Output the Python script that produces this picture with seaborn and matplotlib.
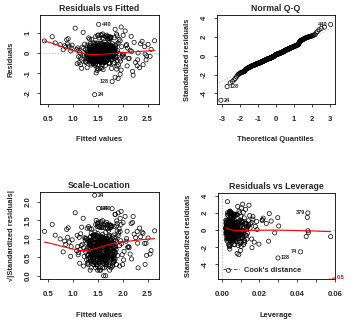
import numpy as np
import matplotlib
matplotlib.use("Agg")
import matplotlib.pyplot as plt
from matplotlib.lines import Line2D
import seaborn as sns
from statistics import NormalDist

# ---- fitted model quantities (one entry per observation, obs 1..450) ----
fitted = [
    1.62, 1.48, 1.75, 1.33, 2.08, 1.57, 1.69, 1.41, 1.84, 1.15,
    1.53, 1.78, 0.88, 1.46, 1.66, 1.92, 1.37, 1.59, 2.31, 1.72,
    1.44, 1.81, 1.27, 1.44, 1.63, 1.55, 1.98, 1.36, 1.71, 1.50,
    1.67, 1.39, 2.12, 1.58, 1.09, 1.76, 1.49, 1.85, 1.31, 1.61,
    1.74, 1.43, 0.65, 1.56, 1.89, 1.35, 1.64, 2.44, 1.52, 1.79,
    1.22, 1.68, 1.47, 1.83, 1.58, 2.02, 1.40, 1.70, 1.34, 1.60,
    1.51, 1.87, 1.29, 1.65, 1.42, 1.77, 2.26, 1.54, 1.19, 1.63,
    1.45, 1.73, 1.38, 2.21, 1.57, 1.82, 1.49, 0.91, 1.67, 1.32,
    1.95, 1.50, 1.61, 1.36, 1.75, 1.46, 1.12, 1.70, 1.55, 2.05,
    1.41, 1.66, 1.80, 1.33, 1.59, 2.36, 1.48, 1.72, 1.25, 1.62,
    1.54, 1.86, 1.43, 1.69, 1.37, 1.99, 1.52, 0.75, 1.64, 1.78,
    1.46, 1.58, 1.30, 1.74, 1.51, 2.15, 1.40, 1.68, 1.17, 1.56,
    1.81, 1.44, 1.63, 1.35, 1.91, 1.53, 1.71, 1.79, 1.48, 2.29,
    1.60, 1.38, 1.76, 1.50, 1.05, 1.66, 1.42, 1.84, 1.57, 1.28,
    1.73, 1.47, 1.94, 1.61, 1.34, 1.69, 1.52, 2.51, 1.45, 1.78,
    1.39, 1.63, 1.21, 1.55, 1.82, 1.49, 1.67, 2.03, 1.36, 1.58,
    1.74, 1.43, 1.65, 1.26, 1.88, 1.51, 1.70, 0.84, 1.59, 1.41,
    1.77, 1.54, 1.35, 1.97, 1.62, 1.46, 1.83, 1.13, 1.68, 1.52,
    1.60, 1.37, 1.75, 2.41, 1.48, 1.64, 1.32, 1.80, 1.56, 1.44,
    1.71, 1.50, 1.93, 1.40, 1.62, 1.23, 1.77, 1.53, 1.66, 2.10,
    1.45, 1.58, 1.86, 1.33, 1.69, 0.59, 1.55, 1.74, 1.42, 1.61,
    1.38, 1.80, 1.49, 1.64, 2.00, 1.47, 1.10, 1.72, 1.57, 1.36,
    1.84, 1.52, 1.67, 1.41, 2.55, 1.60, 1.29, 1.76, 1.48, 1.65,
    1.54, 1.70, 1.39, 1.89, 1.58, 1.44, 1.22, 1.78, 1.51, 1.63,
    1.35, 1.91, 1.68, 1.46, 1.59, 2.18, 1.42, 1.73, 1.56, 1.30,
    1.82, 1.49, 1.64, 1.16, 1.71, 1.53, 1.39, 2.07, 1.61, 1.47,
    1.85, 1.57, 1.34, 1.69, 0.81, 1.52, 1.76, 1.43, 1.96, 1.62,
    1.50, 1.27, 1.66, 1.81, 1.45, 2.34, 1.58, 1.72, 1.37, 1.55,
    1.79, 1.41, 1.63, 1.11, 1.50, 1.88, 1.47, 1.67, 1.31, 1.59,
    1.74, 2.23, 1.44, 1.60, 1.38, 1.83, 1.53, 1.70, 0.96, 1.48,
    1.65, 1.42, 1.95, 1.56, 1.77, 1.33, 1.62, 2.47, 1.49, 1.71,
    1.24, 1.57, 1.86, 1.45, 1.68, 1.52, 2.20, 1.40, 1.75, 1.61,
    1.47, 1.80, 1.36, 1.66, 2.30, 1.54, 1.73, 1.43, 1.90, 1.58,
    1.30, 1.69, 1.51, 1.64, 0.93, 1.78, 1.46, 2.01, 1.55, 1.39,
    1.72, 1.49, 1.62, 1.18, 1.84, 1.44, 1.67, 2.64, 1.53, 1.35,
    1.76, 1.57, 1.41, 1.97, 1.63, 1.48, 1.70, 1.31, 1.59, 1.82,
    1.45, 1.66, 1.08, 1.54, 1.74, 1.37, 2.13, 1.60, 1.50, 1.79,
    1.42, 1.68, 1.56, 1.87, 1.33, 1.61, 1.47, 1.73, 2.17, 1.52,
    1.64, 1.38, 1.81, 1.49, 1.58, 2.39, 1.44, 1.71, 1.26, 1.55,
    1.77, 1.40, 1.62, 1.89, 1.51, 0.99, 1.67, 1.46, 2.09, 1.59,
    1.34, 1.75, 1.52, 1.65, 1.43, 1.85, 2.57, 1.57, 1.39, 1.69,
    1.48, 1.14, 1.72, 1.60, 1.36, 1.94, 1.54, 1.78, 0.86, 1.45,
    1.63, 1.50, 1.80, 1.32, 2.48, 1.68, 1.57, 1.41, 1.74, 1.28,
    1.83, 1.53, 0.97, 1.66, 1.46, 1.88, 1.61, 2.45, 1.38, 1.52,
    1.70, 1.49, 1.76, 1.42, 0.434, 1.56, 1.82, 1.35, 1.64, 0.90,
]

resid = [
    0.05, -0.29, 0.38, -0.31, 0.44, -0.06, 0.82, -0.47, 0.14, -0.22,
    0.36, -0.12, 0.68, -0.27, 0.09, -0.58, 0.31, -0.39, 0.02, -0.15,
    0.52, -0.09, -0.44, -2.07, 0.18, -0.35, 0.33, 0.07, -0.33, 0.88,
    -0.03, 0.24, -0.27, 0.41, -0.52, 0.12, -0.14, 1.20, -0.06, -0.82,
    0.29, -0.24, 0.52, 0.15, -0.36, 0.47, -0.11, 0.33, -0.19, 0.03,
    0.25, -0.41, 0.08, 0.78, -0.28, -0.08, -0.16, 0.19, 0.38, -0.55,
    0.11, -0.22, -0.72, 0.86, -0.04, 0.23, -0.46, 0.01, 0.31, -0.30,
    0.44, -0.13, 0.16, -1.10, -0.35, 0.06, 0.28, 0.73, -0.20, -0.09,
    0.62, -0.42, 0.13, -0.49, 0.39, -0.02, -0.17, 0.22, -0.74, 1.12,
    0.10, -0.31, 0.17, 0.34, -0.12, 0.48, -0.23, 0.04, -0.40, 0.74,
    -0.07, 0.26, -0.19, 0.45, -0.58, -0.14, 0.20, 0.43, -0.37, 0.09,
    0.30, -0.25, 0.05, -0.52, 0.92, 0.15, -0.10, 0.37, -0.29, -0.45,
    0.12, -0.16, 0.43, -0.34, 0.51, -0.05, -0.21, -1.416, 0.07, -0.62,
    0.32, -0.13, 0.79, -0.38, 1.26, 0.00, 0.19, -0.26, 0.42, -0.08,
    -0.48, 0.14, -0.03, -0.37, 0.71, 0.08, -0.78, 0.45, -0.18, 0.35,
    -0.27, 0.16, 1.05, -0.11, 0.27, 0.04, -0.42, -0.19, 0.10, 0.48,
    -0.06, -0.32, 0.34, 0.18, -0.79, 0.36, -0.15, 0.38, 0.06, -0.53,
    0.81, -0.20, 0.01, 1.32, -0.28, 0.25, -0.10, -0.47, 0.13, -0.36,
    0.40, -0.07, 0.03, -0.57, 0.29, -0.45, 0.77, -0.15, 0.09, -0.41,
    0.20, -0.01, 0.70, -0.22, 0.46, -0.12, -0.33, 0.15, -0.60, 0.26,
    0.05, 0.31, -0.17, -0.26, 0.11, 0.83, -0.44, 0.72, -0.09, 0.23,
    -0.37, 0.28, -0.86, 0.43, -0.04, 0.12, 0.27, -0.18, 0.89, -0.30,
    0.07, -0.13, 0.34, -0.50, -0.15, 0.02, 0.41, -0.25, 0.18, -0.08,
    -0.35, 0.28, 0.10, -0.64, 0.50, -0.20, -0.03, 0.14, 0.37, -0.12,
    0.22, -1.26, 0.06, -0.28, 0.76, 0.09, -0.06, 0.30, -0.43, 0.13,
    -0.19, 0.47, -0.02, -0.56, 0.36, 0.77, -0.15, 0.38, -0.32, 0.04,
    -1.20, 0.25, -0.11, 0.83, 0.18, -0.40, 0.08, 0.35, -0.39, -0.05,
    0.17, -0.21, 0.44, -0.07, -0.61, -0.72, 0.11, 0.28, 0.02, -0.29,
    0.49, -0.14, -0.36, 0.14, 0.23, 0.04, -0.98, 0.32, -0.24, -0.10,
    0.16, 0.55, -0.17, 0.97, 0.07, -0.46, 0.20, -0.27, 0.12, -0.04,
    0.39, -0.33, -1.05, 0.12, -0.16, 0.29, 0.00, -0.33, 0.52, -0.22,
    0.46, -0.08, 0.40, -0.54, 0.10, 0.31, -0.90, -0.12, 0.80, -0.26,
    0.19, -0.03, -0.40, 0.27, -0.33, 0.06, -0.19, 0.41, 0.13, -0.74,
    -0.13, 0.73, -0.22, 0.08, 0.36, -0.31, 0.22, 0.90, -0.09, 0.16,
    -0.50, 0.03, 0.33, -0.75, 0.18, -0.23, -0.04, 0.63, 0.26, -0.15,
    0.42, -0.34, 0.09, -0.84, 0.15, -0.18, 0.71, 0.04, -0.47, 0.24,
    -0.06, -0.43, 0.20, 0.50, -0.11, -0.20, -0.25, 0.13, -0.57, 0.36,
    0.27, -0.16, 0.01, 0.46, -0.36, 0.10, -0.08, 0.85, 0.853, -0.30,
    0.37, 0.70, -0.12, -0.77, 0.07, 0.60, -0.24, 0.32, -0.45, 0.14,
    -0.02, 0.17, -0.35, 0.87, -0.14, 0.41, 0.05, -0.52, -0.63, 0.25,
    0.11, -0.21, 0.38, -0.07, -0.28, 0.09, 0.20, 0.94, -0.40, 0.18,
    -0.10, 0.05, 0.66, -0.19, 0.30, -0.29, 0.02, -0.76, 0.31, 0.15,
    -0.45, 0.26, 0.05, -0.14, -0.13, 0.91, -0.41, 0.52, -0.01, -0.34,
    0.34, -0.17, 0.27, 0.12, 0.84, 0.96, -0.38, -0.04, -0.05, 1.45,
    0.39, -0.32, 0.75, 0.08, 0.62, -0.12, -0.53, 0.18, 0.44, 0.47,
]

leverage = [
    0.0042, 0.0031, 0.0058, 0.0066, 0.0112, 0.0024, 0.0049, 0.0037, 0.0081, 0.0095,
    0.0028, 0.0053, 0.0165, 0.0045, 0.0021, 0.0102, 0.0063, 0.0034, 0.0187, 0.0071,
    0.0039, 0.0057, 0.0088, 0.0035, 0.0026, 0.0044, 0.0124, 0.0052, 0.0069, 0.0030,
    0.0047, 0.0033, 0.0131, 0.0061, 0.0118, 0.0078, 0.0022, 0.0084, 0.0072, 0.0040,
    0.0055, 0.0029, 0.0215, 0.0036, 0.0093, 0.0059, 0.0025, 0.0236, 0.0043, 0.0067,
    0.0101, 0.0048, 0.0027, 0.0076, 0.0038, 0.0109, 0.0054, 0.0032, 0.0065, 0.0046,
    0.0023, 0.0086, 0.0097, 0.0041, 0.0031, 0.0062, 0.0158, 0.0050, 0.0127, 0.0035,
    0.0044, 0.0058, 0.0026, 0.0418, 0.0073, 0.0052, 0.0037, 0.0148, 0.0029, 0.0080,
    0.0119, 0.0034, 0.0021, 0.0068, 0.0056, 0.0040, 0.0136, 0.0047, 0.0064, 0.0105,
    0.0030, 0.0043, 0.0071, 0.0058, 0.0025, 0.0214, 0.0039, 0.0052, 0.0107, 0.0033,
    0.0046, 0.0089, 0.0028, 0.0051, 0.0074, 0.0115, 0.0036, 0.0185, 0.0042, 0.0063,
    0.0032, 0.0022, 0.0077, 0.0060, 0.0045, 0.0138, 0.0037, 0.0054, 0.0112, 0.0030,
    0.0066, 0.0041, 0.0027, 0.0070, 0.0098, 0.0035, 0.0057, 0.0298, 0.0024, 0.0172,
    0.0049, 0.0033, 0.0075, 0.0043, 0.0144, 0.0038, 0.0026, 0.0083, 0.0052, 0.0091,
    0.0061, 0.0029, 0.0104, 0.0044, 0.0069, 0.0034, 0.0048, 0.0262, 0.0023, 0.0059,
    0.0050, 0.0031, 0.0126, 0.0040, 0.0072, 0.0026, 0.0055, 0.0117, 0.0064, 0.0037,
    0.0053, 0.0030, 0.0046, 0.0099, 0.0087, 0.0022, 0.0042, 0.0160, 0.0035, 0.0061,
    0.0068, 0.0033, 0.0056, 0.0110, 0.0041, 0.0027, 0.0079, 0.0133, 0.0048, 0.0039,
    0.0045, 0.0060, 0.0050, 0.0248, 0.0024, 0.0037, 0.0082, 0.0065, 0.0029, 0.0047,
    0.0054, 0.0031, 0.0101, 0.0043, 0.0036, 0.0105, 0.0070, 0.0025, 0.0052, 0.0128,
    0.0038, 0.0028, 0.0091, 0.0073, 0.0044, 0.0252, 0.0034, 0.0062, 0.0023, 0.0049,
    0.0057, 0.0076, 0.0040, 0.0032, 0.0113, 0.0026, 0.0141, 0.0058, 0.0042, 0.0067,
    0.0080, 0.0030, 0.0047, 0.0053, 0.0281, 0.0027, 0.0094, 0.0061, 0.0036, 0.0044,
    0.0039, 0.0055, 0.0031, 0.0096, 0.0021, 0.0048, 0.0108, 0.0069, 0.0034, 0.0051,
    0.0062, 0.0090, 0.0041, 0.0028, 0.0045, 0.0150, 0.0033, 0.0059, 0.0037, 0.0085,
    0.0074, 0.0025, 0.0043, 0.0121, 0.0053, 0.0031, 0.0049, 0.0108, 0.0039, 0.0022,
    0.0081, 0.0036, 0.0066, 0.0047, 0.0178, 0.0029, 0.0063, 0.0040, 0.0107, 0.0033,
    0.0044, 0.0093, 0.0038, 0.0072, 0.0056, 0.0197, 0.0027, 0.0050, 0.0060, 0.0035,
    0.0068, 0.0031, 0.0046, 0.0130, 0.0024, 0.0088, 0.0042, 0.0052, 0.0078, 0.0030,
    0.0057, 0.0165, 0.0037, 0.0043, 0.0059, 0.0077, 0.0026, 0.0049, 0.0118, 0.0034,
    0.0045, 0.0030, 0.0099, 0.0039, 0.0066, 0.0071, 0.0028, 0.0448, 0.0041, 0.0055,
    0.0103, 0.0033, 0.0083, 0.0047, 0.0038, 0.0023, 0.0160, 0.0063, 0.0060, 0.0042,
    0.0032, 0.0070, 0.0058, 0.0044, 0.0578, 0.0028, 0.0054, 0.0039, 0.0094, 0.0036,
    0.0086, 0.0050, 0.0027, 0.0040, 0.0128, 0.0064, 0.0031, 0.0114, 0.0046, 0.0056,
    0.0059, 0.0025, 0.0043, 0.0116, 0.0079, 0.0035, 0.0048, 0.0454, 0.0030, 0.0064,
    0.0067, 0.0037, 0.0029, 0.0103, 0.0041, 0.0045, 0.0053, 0.0081, 0.0024, 0.0071,
    0.0036, 0.0047, 0.0139, 0.0032, 0.0061, 0.0052, 0.0125, 0.0038, 0.0028, 0.0073,
    0.0043, 0.0050, 0.0026, 0.0092, 0.0069, 0.0035, 0.0040, 0.0056, 0.0457, 0.0033,
    0.0048, 0.0061, 0.0078, 0.0038, 0.0022, 0.0220, 0.0046, 0.0054, 0.0098, 0.0034,
    0.0065, 0.0030, 0.0042, 0.0095, 0.0027, 0.0109, 0.0044, 0.0051, 0.0122, 0.0031,
    0.0072, 0.0058, 0.0035, 0.0039, 0.0048, 0.0084, 0.0302, 0.0041, 0.0057, 0.0046,
    0.0029, 0.0129, 0.0052, 0.0037, 0.0065, 0.0100, 0.0023, 0.0069, 0.0152, 0.0040,
    0.0045, 0.0031, 0.0076, 0.0079, 0.0460, 0.0049, 0.0034, 0.0055, 0.0060, 0.0090,
    0.0082, 0.0026, 0.0113, 0.0041, 0.0036, 0.0091, 0.0047, 0.0457, 0.0063, 0.0030,
    0.0051, 0.0032, 0.0066, 0.0044, 0.0297, 0.0038, 0.0074, 0.0061, 0.0028, 0.0141,
]

n_coef = 4                     # model rank p
cook_levels = [0.5, 1.0]

# smoother traces (lowess) for the three smoothed panels
smooth_fit_x = [0.434, 0.6, 0.8, 1.0, 1.2, 1.35, 1.5, 1.7, 1.9, 2.1, 2.3, 2.5, 2.64]
smooth_resid_y = [0.62, 0.50, 0.32, 0.14, 0.00, -0.06, -0.06, -0.03, 0.01, 0.05, 0.09, 0.12, 0.15]
smooth_scale_y = [0.91, 0.86, 0.79, 0.72, 0.67, 0.69, 0.75, 0.83, 0.89, 0.93, 0.96, 0.99, 1.00]
smooth_lev_x = [0.0021, 0.004, 0.006, 0.008, 0.012, 0.02, 0.03, 0.04, 0.05, 0.0578]
smooth_lev_y = [0.28, 0.08, -0.04, -0.08, -0.07, -0.03, -0.02, -0.07, -0.13, -0.20]

# ---- derived diagnostics ----
fitted = np.asarray(fitted)
resid = np.asarray(resid)
leverage = np.asarray(leverage)
n = len(resid)
sigma = np.sqrt(np.sum(resid ** 2) / (n - n_coef))
std_resid = resid / (sigma * np.sqrt(1 - leverage))
sqrt_abs = np.sqrt(np.abs(std_resid))
cooks = std_resid ** 2 * leverage / (n_coef * (1 - leverage))

nd = NormalDist()
order = np.argsort(std_resid)
theo = np.empty(n)
theo[order] = [nd.inv_cdf((i + 0.5) / n) for i in range(n)]

id_resid = np.argsort(-np.abs(resid))[:3]
id_std = np.argsort(-np.abs(std_resid))[:3]
id_cook = np.argsort(-cooks)[:3]

# ---- styling ----
sns.set_style("ticks")
plt.rcParams["font.family"] = ["Liberation Sans", "DejaVu Sans"]
plt.rcParams["axes.linewidth"] = 0.6

W, H = 354, 322
fig = plt.figure(figsize=(W / 100, H / 100), dpi=100)


def px_rect(l, t, r, b):
    return [l / W, 1 - b / H, (r - l) / W, (b - t) / H]


def padded(lo, hi, f=0.04):
    d = (hi - lo) * f
    return lo - d, hi + d


TICK_FS = 5.6
LAB_FS = 5.4
TITLE_FS = 6.3
ID_FS = 4.0
GREY = "#BEBEBE"


def style(ax, title, xlabel, ylabel):
    ax.set_title(title, fontsize=TITLE_FS, fontweight="bold", pad=3)
    ax.set_xlabel(xlabel, fontsize=LAB_FS, fontweight="bold", labelpad=9.5)
    ax.set_ylabel(ylabel, fontsize=LAB_FS, fontweight="bold", labelpad=7)
    ax.tick_params(direction="out", length=2.5, width=0.6, labelsize=TICK_FS, pad=6.5)
    ax.tick_params(axis="y", labelrotation=90, pad=3.5)
    for lab in ax.get_xticklabels() + ax.get_yticklabels():
        lab.set_fontweight("bold")
    for lab in ax.get_yticklabels():
        lab.set_va("center")
    for s in ax.spines.values():
        s.set_visible(True)
        s.set_color("black")


def points(ax, x, y):
    sns.scatterplot(x=x, y=y, ax=ax, marker="o", s=9, facecolors="none",
                    edgecolor="black", linewidth=0.5, zorder=3)


def id_labels(ax, x, y, idx):
    mid = (np.min(x) + np.max(x)) / 2
    for i in idx:
        right = x[i] <= mid
        ax.annotate(str(i + 1), (x[i], y[i]), xytext=(2.2 if right else -2.2, 0),
                    textcoords="offset points", ha="left" if right else "right",
                    va="center", fontsize=ID_FS, fontweight="bold", zorder=4)


# Residuals vs Fitted
ax1 = fig.add_axes(px_rect(40, 15.5, 159, 103.5))
ax1.axhline(0, color=GREY, ls=":", lw=0.8, zorder=1)
points(ax1, fitted, resid)
sns.lineplot(x=smooth_fit_x, y=smooth_resid_y, ax=ax1, color="red", lw=0.8,
             sort=False, estimator=None, zorder=5)
id_labels(ax1, fitted, resid, id_resid)
ax1.set_xlim(*padded(fitted.min(), fitted.max()))
yl = padded(resid.min(), resid.max(), 0.08)
ax1.set_ylim(*padded(*yl))
ax1.set_xticks([0.5, 1.0, 1.5, 2.0, 2.5])
ax1.set_yticks([-2, -1, 0, 1])
ax1.set_yticklabels(["-2", "-1", "0", "1"])
style(ax1, "Residuals vs Fitted", "Fitted values", "Residuals")

# Normal Q-Q
ax2 = fig.add_axes(px_rect(216.5, 15.5, 335, 103.5))
q1, q3 = np.quantile(std_resid, [0.25, 0.75])
z1, z3 = nd.inv_cdf(0.25), nd.inv_cdf(0.75)
slope = (q3 - q1) / (z3 - z1)
ax2.axline((z1, q1), slope=slope, color=GREY, ls=":", lw=0.8, zorder=1)
points(ax2, theo, std_resid)
id_labels(ax2, theo, std_resid, id_std)
ax2.set_xlim(*padded(theo.min(), theo.max()))
ylo, yhi = std_resid.min(), std_resid.max()
ax2.set_ylim(*padded(ylo, yhi + (yhi - ylo) * 0.075))
ax2.set_xticks([-3, -2, -1, 0, 1, 2, 3])
ax2.set_xticklabels(["-3", "-2", "-1", "0", "1", "2", "3"])
ax2.set_yticks([-4, -2, 0, 2, 4])
ax2.set_yticklabels(["-4", "-2", "0", "2", "4"])
style(ax2, "Normal Q-Q", "Theoretical Quantiles", "Standardized residuals")

# Scale-Location
ax3 = fig.add_axes(px_rect(40, 192, 159, 279))
points(ax3, fitted, sqrt_abs)
sns.lineplot(x=smooth_fit_x, y=smooth_scale_y, ax=ax3, color="red", lw=0.8,
             sort=False, estimator=None, zorder=5)
id_labels(ax3, fitted, sqrt_abs, id_std)
ax3.set_xlim(*padded(fitted.min(), fitted.max()))
ax3.set_ylim(*padded(0, sqrt_abs.max()))
ax3.set_xticks([0.5, 1.0, 1.5, 2.0, 2.5])
ax3.set_yticks([0.0, 0.5, 1.0, 1.5, 2.0])
ax3.set_yticklabels(["0.0", "0.5", "1.0", "1.5", "2.0"])
style(ax3, "Scale-Location", "Fitted values", "\u221a|Standardized residuals|")

# Residuals vs Leverage
ax4 = fig.add_axes(px_rect(217.5, 193, 335, 279))
ax4.axhline(0, color=GREY, ls=":", lw=0.8, zorder=1)
ax4.axvline(0, color=GREY, ls=":", lw=0.8, zorder=1)
points(ax4, leverage, std_resid)
sns.lineplot(x=smooth_lev_x, y=smooth_lev_y, ax=ax4, color="red", lw=0.8,
             sort=False, estimator=None, zorder=5)
id_labels(ax4, leverage, std_resid, id_cook)
xlim4 = padded(0, leverage.max())
ylim4 = padded(*padded(std_resid.min(), std_resid.max(), 0.08))
hh = np.linspace(min(leverage.min(), leverage.max() / 100), xlim4[1], 101)
for crit in cook_levels:
    ch = np.sqrt(crit * n_coef * (1 - hh) / hh)
    sns.lineplot(x=hh, y=ch, ax=ax4, color="red", lw=0.7, ls="--", sort=False, estimator=None)
    sns.lineplot(x=hh, y=-ch, ax=ax4, color="red", lw=0.7, ls="--", sort=False, estimator=None)
ax4.set_xlim(*xlim4)
ax4.set_ylim(*ylim4)
xmax = xlim4[1]
ymult = np.sqrt(n_coef * (1 - xmax) / xmax)
for crit in cook_levels:
    for sgn in (1, -1):
        yy = sgn * np.sqrt(crit) * ymult
        if ylim4[0] <= yy <= ylim4[1]:
            ax4.annotate(f"{crit:g}", (xmax, yy), xytext=(1.5, 0), textcoords="offset points",
                         ha="left", va="center", fontsize=ID_FS, fontweight="bold",
                         color="#C00000", annotation_clip=False)
ax4.set_xticks([0.0, 0.01, 0.02, 0.03, 0.04, 0.05, 0.06])
ax4.set_xticklabels(["0.00", "", "0.02", "", "0.04", "", "0.06"])
ax4.set_yticks([-4, -2, 0, 2, 4])
ax4.set_yticklabels(["-4", "-2", "0", "2", "4"])
ax4.legend(handles=[Line2D([], [], color="red", ls="--", lw=0.7)],
           labels=["Cook's distance"], loc="lower left", frameon=False,
           prop={"size": LAB_FS, "weight": "bold"}, handlelength=2.2,
           borderaxespad=0.3, handletextpad=0.6)
style(ax4, "Residuals vs Leverage", "Leverage", "Standardized residuals")

fig.savefig("out.png", dpi=100)
